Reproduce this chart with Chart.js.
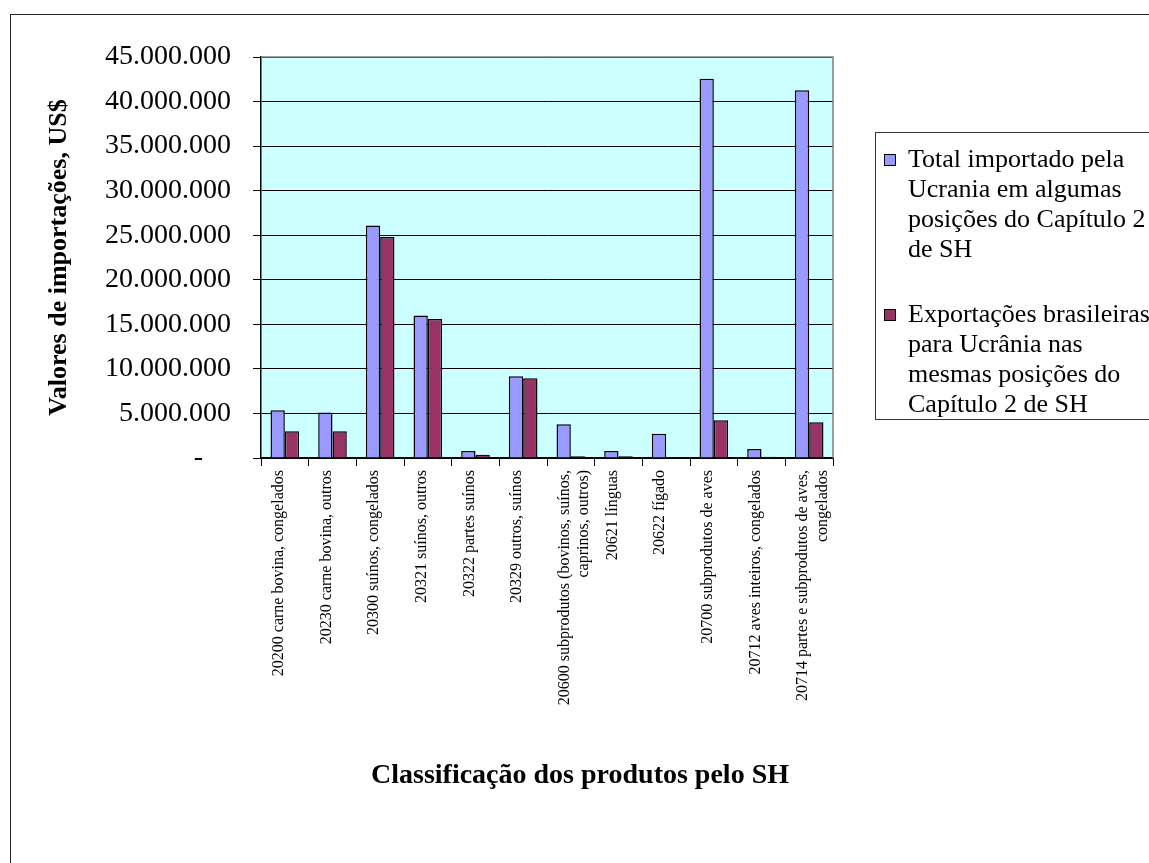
<!DOCTYPE html>
<html>
<head>
<meta charset="utf-8">
<script src="https://cdn.jsdelivr.net/npm/chart.js@4.4.1/dist/chart.umd.min.js"></script>
<style>
  html, body { margin: 0; padding: 0; width: 1149px; height: 863px; overflow: hidden; background: #fff; }
  #wrap { position: relative; width: 1149px; height: 863px; }
  #grafico { position: absolute; left: 0; top: 0; }
  #moldura { position: absolute; left: 10px; top: 14px; width: 1200px; height: 900px; border: 1.5px solid #222; pointer-events: none; }
  #legenda { position: absolute; left: 875px; top: 132px; width: 300px; height: 286px; border: 1.5px solid #333;
             font-family: "Liberation Serif", "Times New Roman", serif; font-size: 26px; color: #000; }
  .item { position: absolute; left: 8px; white-space: nowrap; line-height: 30px; }
  .caixa { position: absolute; left: 0; top: 10px; width: 10px; height: 10px; border: 1.5px solid #000; }
  .texto { position: absolute; left: 24px; top: 0; }
</style>
</head>
<body>
<div id="wrap">
  <canvas id="grafico" width="1149" height="863"></canvas>
  <div id="moldura"></div>
  <div id="legenda"></div>
</div>
<script>
const categorias = [
    "20200 carne bovina, congelados",
    "20230 carne bovina, outros",
    "20300 suínos, congelados",
    "20321 suínos, outros",
    "20322 partes suínos",
    "20329 outros, suínos",
    ["20600 subprodutos (bovinos, suínos,", "caprinos, outros)"],
    "20621 línguas",
    "20622 fígado",
    "20700 subprodutos de aves",
    "20712 aves inteiros, congelados",
    ["20714 partes e subprodutos de aves,", "congelados"]
];

const totalUcrania = [5350000, 5120000, 26100000, 16000000, 790000, 9160000, 3780000, 790000, 2730000, 42570000, 1000000, 41260000];
const exportBrasil = [2990000, 2990000, 24800000, 15600000, 370000, 8940000, 190000, 190000, 0, 4230000, 150000, 4000000];

const legendaTotal = ["Total importado pela", "Ucrania em algumas", "posições do Capítulo 2", "de SH"];
const legendaExport = ["Exportações brasileiras", "para Ucrânia nas", "mesmas posições do", "Capítulo 2 de SH"];

const coresSeries = ["#9999FF", "#993366"];

const tituloY = "Valores de importações, US$";
const tituloX = "Classificação dos produtos pelo SH";

const fonteSerif = '"Liberation Serif", "Times New Roman", serif';

function formatarValor(v) {
    if (v === 0) return "-    ";
    return String(v).replace(/\B(?=(\d{3})+(?!\d))/g, ".");
}

Chart.defaults.font.family = fonteSerif;
Chart.defaults.color = "#000";

const fundoPlot = {
    id: "fundoPlot",
    beforeDraw(chart) {
        const a = chart.chartArea, ctx = chart.ctx;
        ctx.save();
        ctx.fillStyle = "#CCFFFF";
        ctx.fillRect(a.left, a.top, a.right - a.left, a.bottom - a.top);
        ctx.restore();
    },
    afterDraw(chart) {
        const a = chart.chartArea, ctx = chart.ctx;
        ctx.save();
        ctx.strokeStyle = "#808080";
        ctx.lineWidth = 1.5;
        ctx.beginPath();
        ctx.moveTo(a.left, a.top);
        ctx.lineTo(a.right, a.top);
        ctx.lineTo(a.right, a.bottom);
        ctx.stroke();
        // titulo do eixo x, centrado na area toda como no original
        ctx.fillStyle = "#000";
        ctx.font = "bold 28px " + fonteSerif;
        ctx.textAlign = "center";
        ctx.textBaseline = "middle";
        ctx.fillText(tituloX, 580, 776);
        ctx.restore();
    }
};

const grafico = new Chart(document.getElementById("grafico").getContext("2d"), {
    type: "bar",
    data: {
        labels: categorias,
        datasets: [{
            label: legendaTotal.join(" "),
            data: totalUcrania,
            backgroundColor: coresSeries[0],
            borderColor: "#000",
            borderWidth: 1.5
        }, {
            label: legendaExport.join(" "),
            data: exportBrasil,
            backgroundColor: coresSeries[1],
            borderColor: "#000",
            borderWidth: 1.5
        }]
    },
    options: {
        responsive: false,
        animation: false,
        layout: { padding: { left: 40, top: 57, right: 316, bottom: 0 } },
        datasets: { bar: { categoryPercentage: 0.6, barPercentage: 1 } },
        plugins: {
            legend: { display: false },
            tooltip: { enabled: false }
        },
        scales: {
            x: {
                afterFit(scale) { scale.height = 405; },
                grid: { drawOnChartArea: false, drawTicks: true, tickLength: 8, color: "#000", lineWidth: 1 },
                border: { color: "#000", width: 1.5 },
                ticks: { autoSkip: false, minRotation: 90, maxRotation: 90, padding: 4, labelOffset: -6, font: { size: 16 }, color: "#000" }
            },
            y: {
                min: 0,
                max: 45000000,
                afterFit(scale) { scale.width = 221; },
                grid: { color: "#000", lineWidth: 1, tickLength: 8 },
                border: { color: "#000", width: 1.5 },
                ticks: { stepSize: 5000000, padding: 22, font: { size: 28 }, color: "#000", callback: formatarValor },
                title: { display: true, text: tituloY, font: { size: 26, weight: "bold" }, color: "#000", padding: { top: 4, bottom: 0 } }
            }
        }
    },
    plugins: [fundoPlot]
});

// legenda em HTML, com as linhas quebradas como no original
const legenda = document.getElementById("legenda");
[legendaTotal, legendaExport].forEach((linhas, i) => {
    const item = document.createElement("div");
    item.className = "item";
    item.style.top = (11 + i * 155) + "px";
    item.innerHTML = '<div class="caixa" style="background:' + coresSeries[i] + '"></div>' +
        '<div class="texto">' + linhas.join("<br>") + '</div>';
    legenda.appendChild(item);
});
</script>
</body>
</html>
